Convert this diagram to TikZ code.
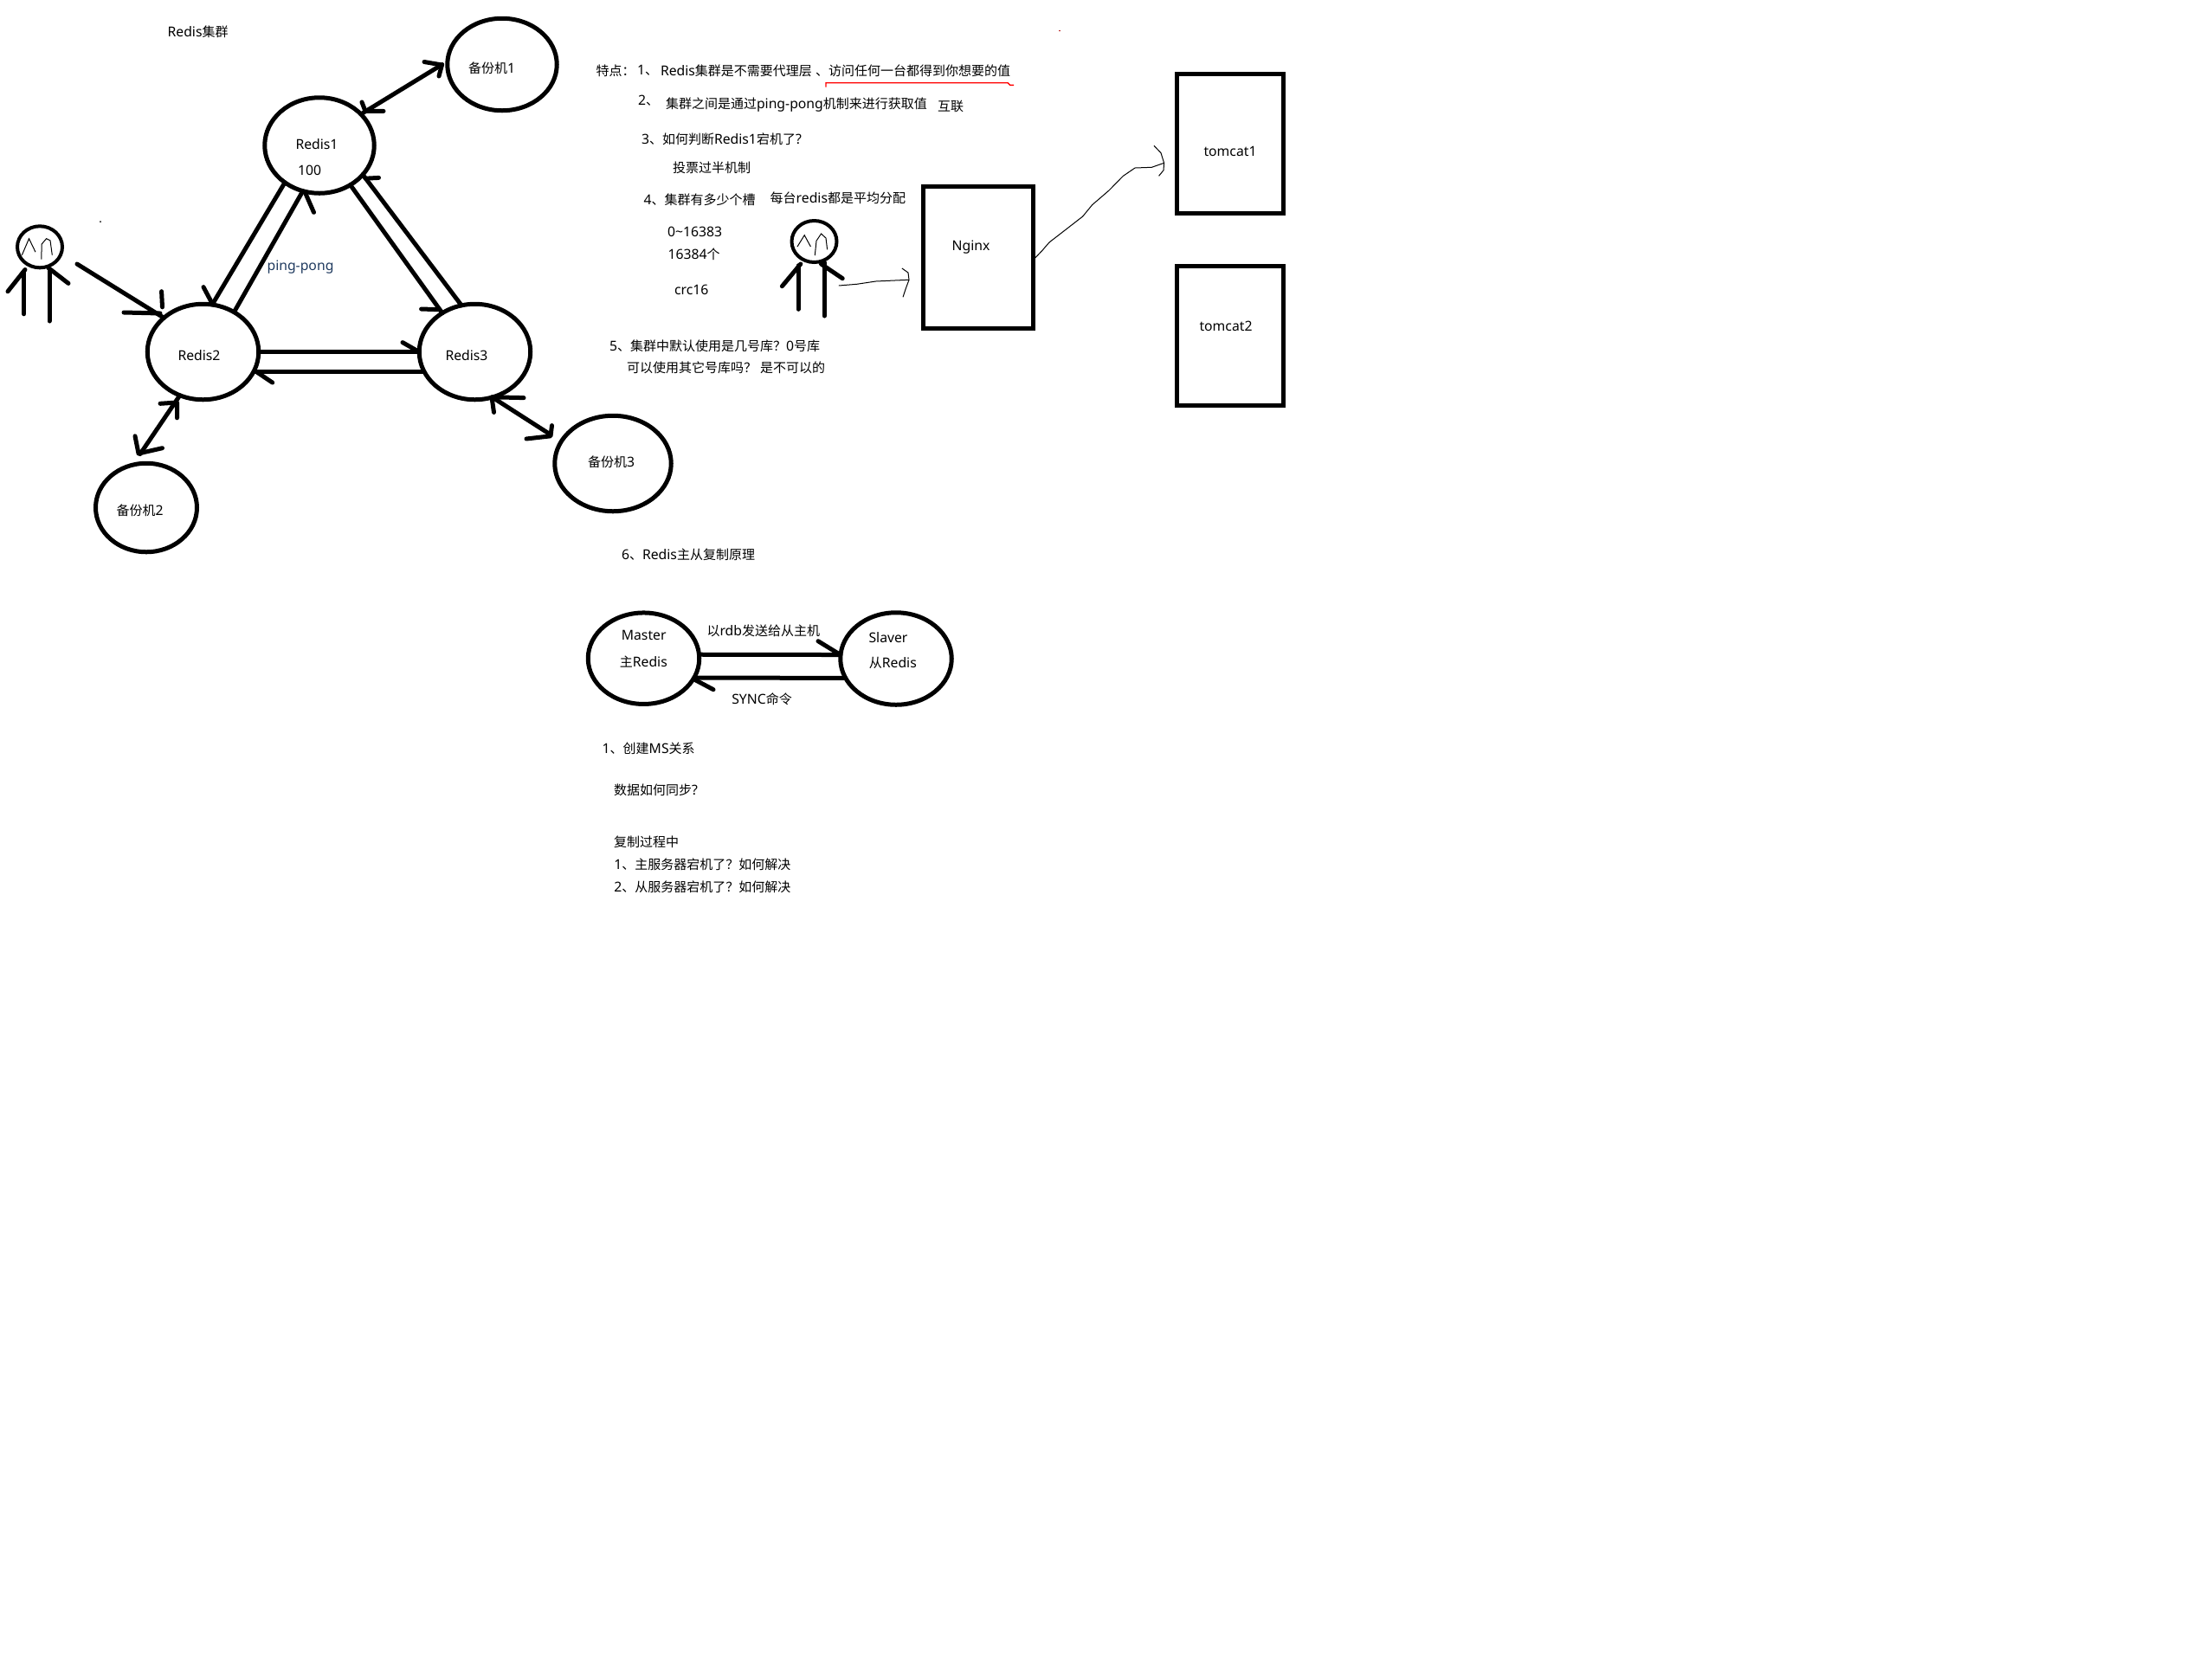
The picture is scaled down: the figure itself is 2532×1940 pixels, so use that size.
\documentclass[tikz,border=0pt]{standalone}
\usepackage{fontspec}
\setmainfont[Scale=1.05]{Noto Sans}
\newfontfamily\cjk{Noto Sans CJK SC}
\newcommand\C[1]{{\cjk #1}}
\usetikzlibrary{shapes.geometric}
\definecolor{navy}{HTML}{1F3A5F}
\tikzset{
  heavy/.style={line width=2.5pt,line cap=round,line join=round,black},
  barb/.style={line width=2.5pt,line cap=round,line join=round,black},
  thinline/.style={line width=0.5pt,black},
  circ/.style={ellipse,draw,line width=2.5pt,inner sep=0pt,outer sep=0pt,fill=none},
  big/.style={circ,minimum width=63.25pt,minimum height=55.25pt},
  headc/.style={circ,line width=2pt,minimum width=26pt,minimum height=24pt},
  box/.style={draw,line width=2.5pt,inner sep=0pt,outer sep=0pt},
  txt/.style={inner sep=0pt,outer sep=0pt,text=black,font=\fontsize{7.5}{9}\selectfont},
  lt/.style={txt,anchor=west},
}
\begin{document}
\begin{tikzpicture}[x=0.5pt,y=-0.5pt]
\useasboundingbox[fill=white] (0,0) rectangle (2532,1940);
% cluster nodes
\node[big] (r1) at (369,168) {};
\node[big,minimum width=64.25pt] (r2) at (234.5,406.5) {};
\node[big,minimum width=64.25pt] (r3) at (548.5,406.5) {};
\node[circ,minimum width=63.25pt,minimum height=53.25pt] (b1) at (580,74.5) {};
\node[circ,minimum width=58.5pt,minimum height=51.25pt] (b2) at (169,586.5) {};
\node[circ,minimum width=67.25pt,minimum height=55.25pt] (b3) at (708,535.5) {};
\node[txt] (t0) at (228.6,36.6) {Redis\C{集群}};
\node[txt] (tb1) at (568,79) {\C{备份机}1};
\node[txt] (tr1) at (366,167) {Redis1};
\node[txt] (t100) at (357.6,196.5) {100};
\node[txt,text=navy] (tpp) at (347,309) {ping-pong};
\node[txt] (tr2) at (230,411) {Redis2};
\node[txt] (tr3) at (539,411) {Redis3};
\node[txt] (tb2) at (161.6,590) {\C{备份机}2};
\node[txt] (tb3) at (706,534) {\C{备份机}3};
% cluster connectors
\draw[heavy] (r1.227.5) -- (r2.79.7);
\draw[barb] (235,331.6) -- (245.5,351.4);
\draw[heavy] (r2.52.5) -- (r1.250.3);
\draw[barb] (362.5,245.4) -- (352.7,223);
\draw[heavy] (r1.-52.4) -- (r3.130.2);
\draw[barb] (486.6,357) -- (507.6,357.7);
\draw[heavy] (r3.106.6) -- (r1.-34.8);
\draw[barb] (437.5,205.4) -- (422,206.2);
\draw[heavy] (r2.0) -- (r3.180);
\draw[barb] (465,395.6) -- (482,405.3);
\draw[heavy] (r3.201.3) -- (r2.-21.3);
\draw[barb] (314.7,442) -- (294.6,428.5);
\draw[heavy] (r1.37) -- ([xshift=-3pt]b1.180);
\draw[barb] (490,71.5) -- (510.5,75) -- (507,88);
\draw[barb] (418,118) -- (422,128.4) -- (443,128.4);
\draw[heavy] (r2.242) -- ([yshift=5.5pt]b2.98);
\draw[barb] (185,466.3) -- (204.5,465) -- (204.5,482.8);
\draw[barb] (156,503.8) -- (160,524) -- (187.5,517.7);
\draw[heavy] (r3.-69) -- ([xshift=-7.5pt,yshift=3.5pt]b3.155.3);
\draw[barb] (605,459.6) -- (568,458.8) -- (570.5,476.4);
\draw[barb] (608,507) -- (636,503.8) -- (637.5,491.6);
% person 1
\node[headc] (p1) at (46,285.3) {};
\draw[thinline] (25.4,294.6) -- (33.5,275.7) -- (41,291.2);
\draw[thinline] (47.8,299.7) -- (48.2,282) -- (53.6,275.7) -- (58,277.8) -- (60.3,294.6);
\draw[heavy] (27.7,313.5) -- (27.7,362.8);
\draw[heavy] (57,313.5) -- (57,371);
\draw[heavy] (29,311.5) -- (9,336.7);
\draw[heavy] (55.8,309.4) -- (79,327.4);
\coordinate (p1out) at (89,305);
\draw[heavy] (p1out) -- (r2.139);
\draw[barb] (143,361) -- (185,362);
\draw[barb] (186.6,336.7) -- (187.5,354.8);
\fill[black] (116,256) circle (0.5pt);
\fill[red!70!black] (1224,35.5) circle (0.4pt);
% text block
\node[lt] (a0) at (688.6,81.7) {\C{特点：}};
\node[lt] (a1) at (736,81.7) {1\C{、}};
\node[lt] (a2) at (763,81.7) {Redis\C{集群是不需要代理层} \C{、访问任何一台都得到你想要的值}};
\draw[red,line width=0.7pt] (954,100.7) -- (954,95.7) -- (1164,95.7) -- (1166.6,98.3) -- (1171,98.3);
\node[lt] (b0) at (737,116) {2\C{、}};
\node[lt] (b9) at (769,121) {\C{集群之间是通过}ping-pong\C{机制来进行获取值}};
\node[lt] (b8) at (1083,123) {\C{互联}};
\node[lt] (c0) at (741,160.7) {3\C{、如何判断}Redis1\C{宕机了}?};
\node[lt] (c1) at (777,193.7) {\C{投票过半机制}};
\node[lt] (d0) at (743.5,231) {4\C{、集群有多少个槽}};
\node[lt] (d1) at (889.7,228.7) {\C{每台}redis\C{都是平均分配}};
\node[lt] (d2) at (771,267.7) {0\textasciitilde16383};
\node[lt] (d3) at (771.5,293.7) {16384\C{个}};
\node[lt] (d4) at (779,334.7) {crc16};
\node[lt] (e0) at (704,399.7) {5\C{、集群中默认使用是几号库？}0\C{号库}};
\node[lt] (e1) at (724,425) {\C{可以使用其它号库吗？} \C{是不可以的}};
% person 2 and boxes
\node[headc] (p2) at (940.5,279) {};
\draw[thinline] (921,285) -- (929.2,271.7) -- (936.4,285);
\draw[thinline] (941.3,295) -- (943,278.3) -- (948.5,270) -- (954,275) -- (955.6,288.3);
\draw[heavy] (922,306.7) -- (922,357.3);
\draw[heavy] (952.3,303.3) -- (952.3,365);
\draw[heavy] (924.8,305) -- (903.4,330.7);
\draw[heavy] (948.5,305) -- (973.2,321.7);
\node[box,minimum width=63.5pt,minimum height=82pt] (ng) at (1129.5,297.5) {};
\node[box,minimum width=61.5pt,minimum height=80.5pt] (t1) at (1421,166) {};
\node[box,minimum width=61.5pt,minimum height=80.5pt] (t2) at (1421,388) {};
\node[txt] (tng) at (1121.5,286) {Nginx};
\node[txt] (tt1) at (1421,175) {tomcat1};
\node[txt] (tt2) at (1416,377) {tomcat2};
\coordinate (p2out) at (968.8,330);
\coordinate (ngin) at (1050,323.3);
\draw[thinline] (p2out) -- (989.7,328.3) -- (1011.6,325) -- (1033.6,324) -- (ngin);
\draw[thinline] (1041.9,310) -- (1049,315) -- (ngin) -- (1046.3,333.3) -- (1043,343.3);
\coordinate (t1in) at (1344.6,188.3);
\draw[thinline] (ng.-3) -- (1204,289.3) -- (1212,280) -- (1231.4,265) -- (1250.7,250) -- (1261.6,236.7) -- (1281,220) -- (1297.4,203.3) -- (1311,194) -- (1330.3,193.3) -- (t1in);
\draw[thinline] (1333,168.3) -- (1341,176.7) -- (t1in) -- (1344,196.7) -- (1338.6,203.3);
% master/slave
\node[txt] (f0) at (795,640.7) {6\C{、}Redis\C{主从复制原理}};
\node[circ,minimum width=64.25pt,minimum height=52.75pt] (ms) at (743.5,760.7) {};
\node[circ,minimum width=64.25pt,minimum height=53.25pt] (sl) at (1035,761) {};
\node[txt] (tms) at (743.7,733.7) {Master};
\node[txt] (tms2) at (743.3,764.7) {\C{主}Redis};
\node[txt] (tsl) at (1026,736.7) {Slaver};
\node[txt] (tsl2) at (1031.3,766.3) {\C{从}Redis};
\draw[heavy] (ms.4) -- (sl.176);
\draw[barb] (945,740.7) -- (968.3,755);
\draw[heavy] (sl.201) -- (ms.-21.7);
\draw[barb] (824,796.7) -- (803.3,785.7);
\node[txt] (l1) at (881.8,728.3) {\C{以}rdb\C{发送给从主机}};
\node[txt] (l2) at (880,807.7) {SYNC\C{命令}};
\node[lt] (g0) at (695.7,864.7) {1\C{、创建}MS\C{关系}};
\node[lt] (g1) at (709,912.7) {\C{数据如何同步}?};
\node[lt] (g2) at (709,972.5) {\C{复制过程中}};
\node[lt] (g3) at (709.3,998.7) {1\C{、主服务器宕机了？如何解决}};
\node[lt] (g4) at (709.3,1024.7) {2\C{、从服务器宕机了？如何解决}};
\end{tikzpicture}
\end{document}
